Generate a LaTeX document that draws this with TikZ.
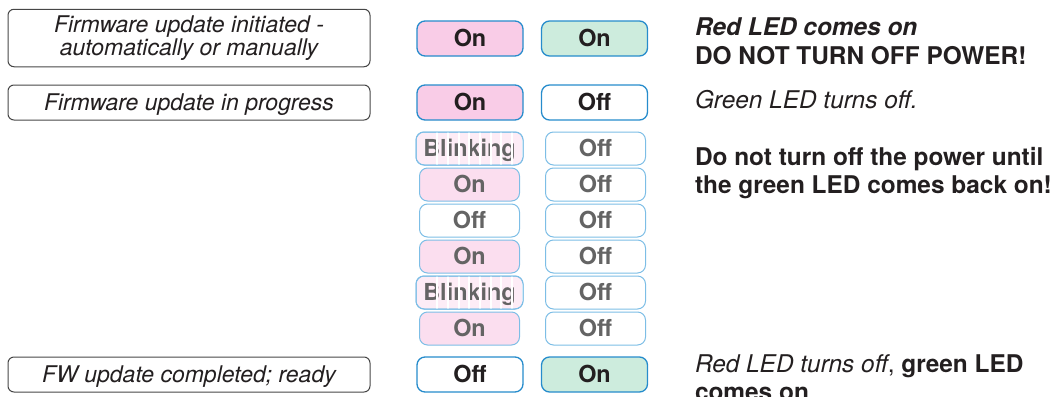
\documentclass[tikz,border=0pt]{standalone}
\usepackage{fontspec}
\setmainfont{TeX Gyre Heros}
\usetikzlibrary{positioning}
\definecolor{inktext}{RGB}{35,31,32}
\definecolor{stageline}{RGB}{70,70,70}
\definecolor{ledblue}{RGB}{38,140,204}
\definecolor{redfill}{RGB}{249,204,231}
\definecolor{greenfill}{RGB}{205,236,221}
\definecolor{fadeblue}{RGB}{125,190,230}
\definecolor{fadepink}{RGB}{251,222,239}
\definecolor{blinkpink}{RGB}{253,236,246}
\definecolor{fadetext}{RGB}{100,100,100}
\begin{document}
\begin{tikzpicture}[x=0.5pt,y=-0.5pt,
				every node/.style={inner sep=0pt,outer sep=0pt,text=inktext},
				stage/.style={draw=stageline,line width=0.5pt,rounded corners=3pt,
					minimum width=181pt,minimum height=17.5pt,align=center,
					font=\fontsize{11.5}{10.5}\selectfont\itshape},
				oneline/.style={text height=8.3pt,text depth=0pt},
				led/.style={draw=ledblue,line width=0.65pt,rounded corners=4pt,
					minimum width=53pt,minimum height=17.5pt,oneline,
					font=\fontsize{11.7}{13}\selectfont\bfseries},
				ledred/.style={led,fill=redfill},
				ledgreen/.style={led,fill=greenfill},
				ledoff/.style={led,fill=white},
				fade/.style={led,draw=fadeblue,line width=0.5pt,
					minimum width=50pt,minimum height=16.5pt,text=fadetext},
				fadeon/.style={fade,fill=fadepink},
				fadeoff/.style={fade,fill=white},
				fadeblink/.style={fade,fill=blinkpink,minimum width=53.5pt},
				note/.style={anchor=base west,font=\fontsize{12.2}{14}\selectfont}]
\useasboundingbox (0,0) rectangle (1053,396);
% stages
\node[stage,minimum height=28.75pt] (init) at (189,38) {Firmware update initiated -\\automatically or manually};
\node[stage,oneline] (prog) at (189,102.5) {Firmware update in progress};
\node[stage,oneline] (done) at (189,374.5) {FW update completed; ready};
% leds
\node[ledred] (r1) at (470,38.5) {On};
\node[ledgreen] (g1) at (594.5,38.5) {On};
\node[ledred] (r2) at (470,102.5) {On};
\node[ledoff] (g2) at (594.5,102.5) {Off};
\foreach \sty/\txt/\n in {fadeblink/Blinking/3,fadeon/On/4,fadeoff/Off/5,
		fadeon/On/6,fadeblink/Blinking/7,fadeon/On/8} {
	\node[\sty] (r\n) at (469.5,40.5+36*\n) {\txt};
	\node[fadeoff] (g\n) at (595.5,40.5+36*\n) {Off};
}
\node[ledoff] (r9) at (470,374.5) {Off};
\node[ledgreen] (g9) at (594.5,374.5) {On};
% blinking stripes
\foreach \b in {r3,r7} {
	\begin{scope}
		\clip[rounded corners=4pt] (\b.south west) rectangle (\b.north east);
		\foreach \k in {0,...,8}
			\draw[white,line width=1pt] ([xshift=-16.1pt+\k*5.33pt]\b.north) -- ([xshift=-16.1pt+\k*5.33pt]\b.south);
	\end{scope}
	\draw[fadeblue,line width=0.5pt,rounded corners=4pt] (\b.south west) rectangle (\b.north east);
}
% notes
\node[note] (n1) at (695,35) {\bfseries\itshape Red LED comes on};
\node[note] (n2) at (695,64) {\bfseries DO NOT TURN OFF POWER!};
\node[note] (n3) at (695,108) {\itshape Green LED turns off.};
\node[note] (n4) at (695,165) {\bfseries Do not turn off the power until};
\node[note] (n5) at (695,193) {\bfseries the green LED comes back on!};
\node[note] (n6) at (695,372) {{\itshape Red LED turns off}, \textbf{green LED}};
\node[note] (n7) at (695,400) {\bfseries comes on};
\end{tikzpicture}
\end{document}
